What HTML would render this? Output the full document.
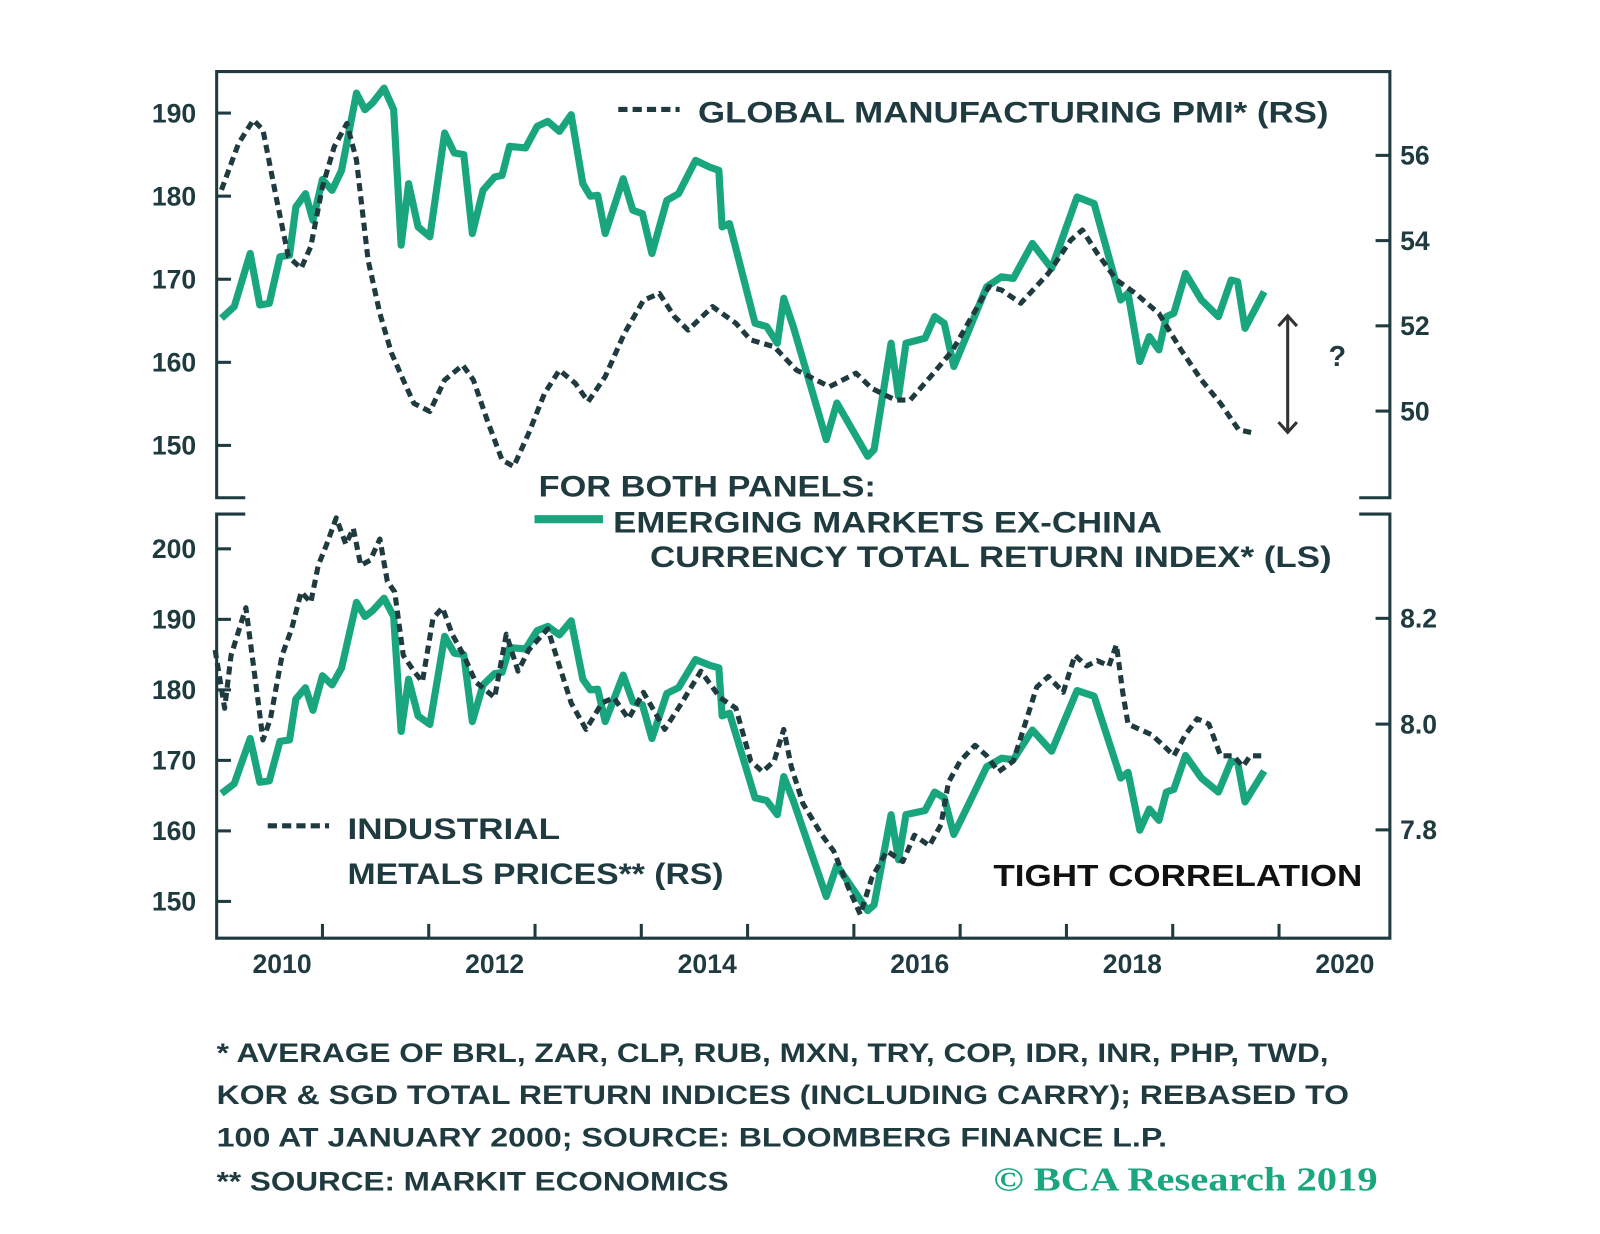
<!DOCTYPE html>
<html><head><meta charset="utf-8"><style>
html,body{margin:0;padding:0;background:#fff;}
svg{display:block;}
text{font-family:"Liberation Sans",sans-serif;font-weight:bold;fill:#1f3b40;}
</style></head><body>
<svg id="chart" width="1600" height="1234" viewBox="0 0 1565.6 1207.4" xmlns="http://www.w3.org/2000/svg">
<g id="frames" stroke="#1f3b40" stroke-width="3" fill="none">
  <path d="M240,487 H212 V70 H1360 V487 H1330"/>
  <path d="M240,503 H212 V918 H1360 V503 H1330"/>
</g>
<g id="ticks" stroke="#1f3b40" stroke-width="3"></g>
<g id="lines"></g>
<g id="labels" font-size="26"></g>

<g>
  <line x1="605" y1="107" x2="665" y2="107" stroke="#1f3b40" stroke-width="5" stroke-dasharray="9 5"/>
  <text x="683" y="120" font-size="29" textLength="617" lengthAdjust="spacingAndGlyphs">GLOBAL MANUFACTURING PMI* (RS)</text>
</g>
<g stroke="#333" stroke-width="3" fill="none">
  <line x1="1260" y1="310" x2="1260" y2="422"/>
  <path d="M1251,319 L1260,309 L1269,319 M1251,413 L1260,423 L1269,413"/>
</g>
<text x="1300" y="358" font-size="28" font-weight="normal">?</text>
<text x="527" y="486" font-size="29" textLength="330" lengthAdjust="spacingAndGlyphs">FOR BOTH PANELS:</text>
<line x1="523" y1="508" x2="590" y2="508" stroke="#19a67e" stroke-width="8"/>
<text x="600" y="521" font-size="29" textLength="537" lengthAdjust="spacingAndGlyphs">EMERGING MARKETS EX-CHINA</text>
<text x="636" y="555" font-size="29" textLength="667" lengthAdjust="spacingAndGlyphs">CURRENCY TOTAL RETURN INDEX* (LS)</text>
<g>
  <line x1="262" y1="808" x2="322" y2="808" stroke="#1f3b40" stroke-width="5" stroke-dasharray="9 5"/>
  <text x="340" y="821" font-size="29" textLength="208" lengthAdjust="spacingAndGlyphs">INDUSTRIAL</text>
  <text x="340" y="865" font-size="29" textLength="368" lengthAdjust="spacingAndGlyphs">METALS PRICES** (RS)</text>
</g>
<text x="972" y="867" font-size="30" style="fill:#111" textLength="361" lengthAdjust="spacingAndGlyphs">TIGHT CORRELATION</text>
<g font-size="26">
  <text x="212" y="1039" textLength="1088" lengthAdjust="spacingAndGlyphs">*  AVERAGE OF BRL, ZAR, CLP, RUB, MXN, TRY, COP, IDR, INR, PHP, TWD,</text>
  <text x="212" y="1080" textLength="1108" lengthAdjust="spacingAndGlyphs">KOR &amp; SGD TOTAL RETURN INDICES (INCLUDING  CARRY); REBASED TO</text>
  <text x="212" y="1122" textLength="930" lengthAdjust="spacingAndGlyphs">100 AT JANUARY 2000; SOURCE: BLOOMBERG FINANCE L.P.</text>
  <text x="212" y="1165" textLength="501" lengthAdjust="spacingAndGlyphs">** SOURCE: MARKIT ECONOMICS</text>
</g>
<text x="972" y="1165" font-size="33" font-weight="normal" style="font-family:'Liberation Serif',serif;fill:#1aa67f" textLength="376" lengthAdjust="spacingAndGlyphs">© BCA Research 2019</text>
</svg>
<script>
// ---- data ----
const emDates=[2009.43,2009.55,2009.70,2009.79,2009.88,2009.98,2010.07,2010.13,2010.22,2010.29,2010.38,2010.47,2010.56,2010.70,2010.78,2010.85,2010.96,2011.05,2011.12,2011.19,2011.28,2011.39,2011.53,2011.62,2011.71,2011.79,2011.89,2012.00,2012.07,2012.14,2012.29,2012.40,2012.50,2012.61,2012.72,2012.83,2012.90,2012.97,2013.04,2013.21,2013.30,2013.39,2013.48,2013.62,2013.73,2013.89,2014.02,2014.11,2014.14,2014.21,2014.45,2014.56,2014.66,2014.72,2014.81,2015.12,2015.22,2015.51,2015.57,2015.73,2015.80,2015.87,2016.05,2016.14,2016.23,2016.32,2016.45,2016.63,2016.77,2016.88,2017.06,2017.24,2017.48,2017.64,2017.89,2017.96,2018.07,2018.16,2018.25,2018.32,2018.39,2018.50,2018.65,2018.81,2018.93,2018.99,2019.06,2019.24];
const emValues=[165.3,166.7,173.1,166.9,167.1,172.7,172.9,178.7,180.3,177.1,182,180.7,183.1,192.4,190.4,191.2,193,190.4,174.1,181.5,176.3,175.1,187.6,185.2,185,175.5,180.7,182.3,182.5,186,185.8,188.4,189,187.8,189.8,181.5,180,180.1,175.5,182.1,178.3,177.9,173.1,179.5,180.3,184.3,183.5,183.1,176.3,176.7,164.7,164.3,162.3,167.7,164.3,150.7,155.1,148.7,149.5,162.3,155.9,162.3,162.9,165.5,164.7,159.5,163.5,169.1,170.3,170.1,174.3,171.3,179.9,179.1,167.5,168.3,160.1,163.1,161.5,165.5,165.9,170.7,167.5,165.5,169.9,169.7,164.1,168.5];
const pmiDates=[2009.43,2009.59,2009.73,2009.82,2009.95,2010.06,2010.18,2010.27,2010.38,2010.49,2010.61,2010.70,2010.81,2010.92,2011.03,2011.14,2011.24,2011.39,2011.53,2011.70,2011.80,2011.93,2012.07,2012.18,2012.32,2012.47,2012.61,2012.76,2012.88,2013.04,2013.22,2013.40,2013.55,2013.69,2013.82,2014.05,2014.27,2014.41,2014.63,2014.84,2014.90,2015.15,2015.40,2015.55,2015.77,2015.91,2016.13,2016.31,2016.49,2016.65,2016.77,2016.95,2017.21,2017.42,2017.53,2017.67,2017.85,2018.03,2018.25,2018.46,2018.65,2018.83,2019.00,2019.15];
const pmiValues=[55.19,56.28,56.83,56.6,54.95,53.62,53.35,53.86,55.26,56.2,56.75,55.89,53.54,52.29,51.36,50.73,50.18,49.99,50.73,51.08,50.73,49.79,48.85,48.7,49.48,50.42,50.96,50.65,50.22,50.81,51.82,52.6,52.76,52.22,51.9,52.45,52.06,51.67,51.51,50.96,50.89,50.57,50.89,50.53,50.26,50.26,50.89,51.43,52.22,52.92,52.84,52.53,53.23,54.01,54.25,53.7,53.08,52.76,52.29,51.43,50.73,50.18,49.56,49.48];
const metalDates=[2009.37,2009.46,2009.52,2009.66,2009.77,2009.82,2009.89,2010.00,2010.09,2010.18,2010.27,2010.34,2010.42,2010.51,2010.60,2010.67,2010.74,2010.83,2010.92,2010.99,2011.06,2011.14,2011.24,2011.32,2011.42,2011.51,2011.60,2011.71,2011.82,2012.00,2012.11,2012.22,2012.32,2012.50,2012.61,2012.72,2012.86,2013.01,2013.12,2013.26,2013.40,2013.60,2013.76,2013.94,2014.12,2014.27,2014.41,2014.52,2014.63,2014.72,2014.79,2014.90,2015.08,2015.19,2015.33,2015.44,2015.55,2015.69,2015.84,2015.95,2016.09,2016.20,2016.27,2016.38,2016.52,2016.63,2016.74,2016.88,2016.99,2017.10,2017.21,2017.35,2017.46,2017.57,2017.67,2017.78,2017.85,2017.91,2017.96,2018.07,2018.18,2018.29,2018.39,2018.50,2018.61,2018.72,2018.83,2018.95,2019.04,2019.11,2019.22];
const metalValues=[8.14,8.03,8.13,8.22,8.05,7.97,8.01,8.13,8.18,8.25,8.23,8.30,8.34,8.39,8.34,8.37,8.30,8.31,8.35,8.27,8.25,8.13,8.10,8.08,8.20,8.22,8.17,8.13,8.08,8.05,8.17,8.10,8.14,8.18,8.11,8.04,7.99,8.04,8.05,8.01,8.06,7.99,8.04,8.10,8.05,8.03,7.93,7.91,7.93,7.99,7.92,7.85,7.79,7.76,7.69,7.64,7.71,7.76,7.74,7.79,7.77,7.81,7.89,7.93,7.96,7.94,7.91,7.93,8.00,8.07,8.09,8.06,8.13,8.11,8.12,8.11,8.15,8.06,8.00,7.99,7.98,7.96,7.94,7.98,8.01,8.00,7.94,7.94,7.92,7.94,7.94];
const xTickLabels=[2010,2012,2014,2016,2018,2020];
const topLeftTicks=[190,180,170,160,150];
const topRightTicks=[56,54,52,50];
const botLeftTicks=[200,190,180,170,160,150];
const botRightTicks=["8.2","8.0","7.8"];

// ---- axes ----
const X=t=>276+(t-2010)*104;
const yTL=v=>110.6+(190-v)*8.13;
const yTR=v=>152+(56-v)*41.7;
const yBL=v=>537+(200-v)*6.9;
const yBR=v=>605+(8.2-v)*517.5;
const NS="http://www.w3.org/2000/svg";
function mk(tag,attrs,parent){const e=document.createElementNS(NS,tag);for(const k in attrs)e.setAttribute(k,attrs[k]);parent.appendChild(e);return e;}
const ticks=document.getElementById('ticks'),labels=document.getElementById('labels'),lines=document.getElementById('lines');

topLeftTicks.forEach(v=>{const y=yTL(v);
 const l=mk('line',{x1:212,x2:226,y1:y,y2:y},ticks);
 
 
 const t=mk('text',{x:192,y:y+9,'text-anchor':'end'},labels);t.textContent=v;
 
 });
topRightTicks.forEach(v=>{const y=yTR(v);
 const l=mk('line',{x1:1346,x2:1360,y1:y,y2:y},ticks);
 
 
 const t=mk('text',{x:1370,y:y+9},labels);t.textContent=v;
 
 });
botLeftTicks.forEach(v=>{const y=yBL(v);
 const l=mk('line',{x1:212,x2:226,y1:y,y2:y},ticks);
 
 
 const t=mk('text',{x:192,y:y+9,'text-anchor':'end'},labels);t.textContent=v;
 
 });
botRightTicks.forEach(v=>{const y=yBR(+v);
 const l=mk('line',{x1:1346,x2:1360,y1:y,y2:y},ticks);
 
 
 const t=mk('text',{x:1370,y:y+9},labels);t.textContent=v;
 
 });
for(let i=0;i<10;i++){const x=X(2010.38+i);
 const l=mk('line',{x1:x,x2:x,y1:904,y2:918},ticks);
 
 }
xTickLabels.forEach(v=>{const t=mk('text',{x:X(v),y:952,'text-anchor':'middle'},labels);t.textContent=v;
 
 });

function path(dates,vals,yf){return dates.map((d,i)=>(i?'L':'M')+X(d).toFixed(1)+','+yf(vals[i]).toFixed(1)).join(' ');}
const g1=mk('path',{d:path(emDates,emValues,yTL),fill:'none',stroke:'#19a67e','stroke-width':7,'stroke-linejoin':'round'},lines);


const p1=mk('path',{d:path(pmiDates,pmiValues,yTR),fill:'none',stroke:'#1f3b40','stroke-width':5,'stroke-dasharray':'8 5','stroke-linejoin':'round'},lines);


const g2=mk('path',{d:path(emDates,emValues,yBL),fill:'none',stroke:'#19a67e','stroke-width':7,'stroke-linejoin':'round'},lines);


const m1=mk('path',{d:path(metalDates,metalValues,yBR),fill:'none',stroke:'#1f3b40','stroke-width':5,'stroke-dasharray':'8 5','stroke-linejoin':'round'},lines);


</script>
</body></html>
